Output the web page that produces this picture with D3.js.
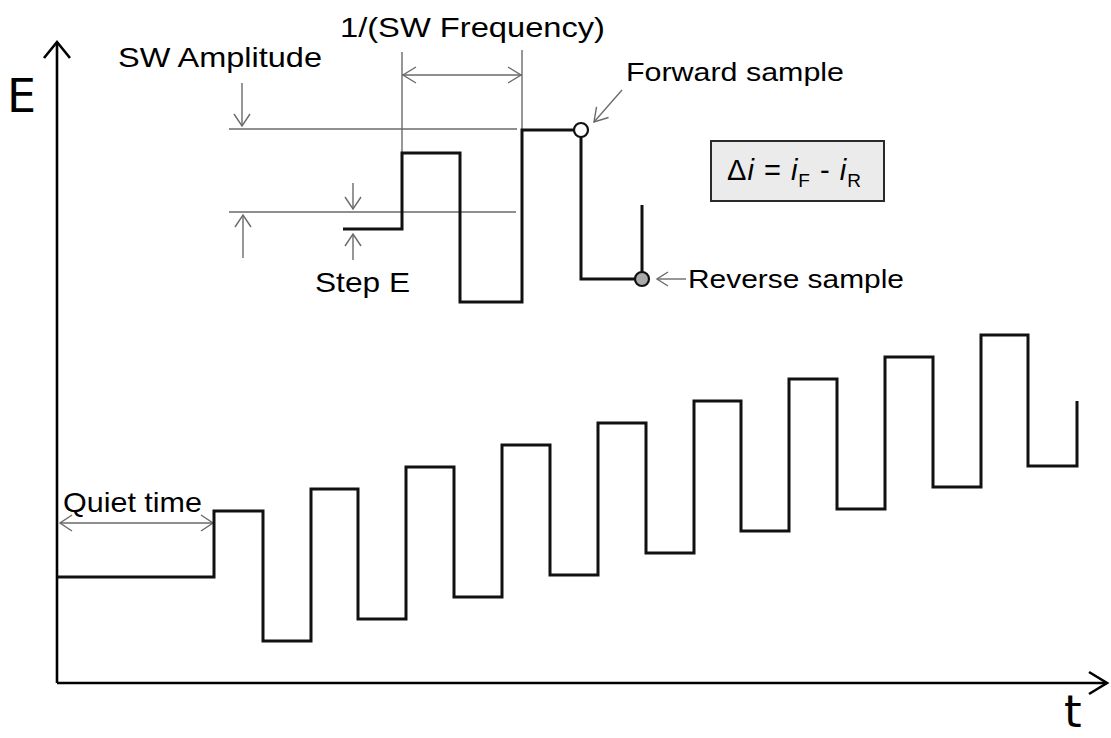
<!DOCTYPE html>
<html>
<head>
<meta charset="utf-8">
<script src="https://cdn.jsdelivr.net/npm/d3@7"></script>
<style>
  html, body { margin: 0; padding: 0; background: #fff; }
  svg { display: block; }
</style>
</head>
<body>
<svg id="chart" width="1111" height="738"></svg>
<script>
// ---- Data (time t and potential E in drawing units) ----
// Main square-wave staircase: [t, E] corner points (step-after)
const mainTimes  = [0, 157, 206, 254, 301, 349, 397, 445, 493, 541, 589, 637, 684, 732, 780, 828, 876, 924, 971, 1020];
const mainLevels = [106, 172, 42, 194, 64, 216, 86, 238, 108, 260, 130, 282, 152, 304, 174, 326, 196, 348, 217, 282];
// Inset (zoomed) waveform
const insetTimes  = [286, 345, 403, 465, 524, 585];
const insetLevels = [454, 530, 381, 553, 404, 478];
// Sample points
const forwardSample = [524, 553];
const reverseSample = [585, 404];
const quietTimeEnd = 157;
// Guide levels in inset
const ampTopLevel = 554;
const stepMidLevel = 471;
const axisLabels = ["E", "t"];
const labels = ["SW Amplitude", "1/(SW Frequency)", "Forward sample", "Step E", "Reverse sample", "Quiet time"];

// ---- Scales ----
const x = d3.scaleLinear().domain([0, 1050]).range([57, 1107]);
const y = d3.scaleLinear().domain([0, 641]).range([683, 42]);

const svg = d3.select("#chart");
const grey = "#6a6a6a";

function chevron(g, tx, ty, dirx, diry, len, half, color, sw) {
  const px = -diry, py = dirx;
  const bx = tx - dirx * len, by = ty - diry * len;
  g.append("path")
    .attr("d", `M${bx + px * half},${by + py * half}L${tx},${ty}L${bx - px * half},${by - py * half}`)
    .attr("fill", "none").attr("stroke", color).attr("stroke-width", sw)
    .attr("stroke-linejoin", "miter");
}
function line(g, x1, y1, x2, y2, color, sw) {
  g.append("line").attr("x1", x1).attr("y1", y1).attr("x2", x2).attr("y2", y2)
    .attr("stroke", color).attr("stroke-width", sw);
}

// ---- Axes ----
const ax = svg.append("g");
line(ax, x(0), y(0), x(0), y(641), "#000", 2.6);
line(ax, x(0), y(0), x(1050), y(0), "#000", 2.6);
chevron(ax, x(0), y(641), 0, -1, 16, 13, "#000", 2.6);
chevron(ax, x(1050), y(0), 1, 0, 18, 11, "#000", 2.6);
ax.append("text").attr("x", 7).attr("y", 112).text(axisLabels[0])
  .attr("font-family", "DejaVu Sans").attr("font-size", 46).attr("fill", "#000");
ax.append("text").attr("x", 1064).attr("y", 727).text(axisLabels[1])
  .attr("font-family", "DejaVu Sans").attr("font-size", 45).attr("fill", "#000");

// ---- Guides (grey) ----
const gd = svg.append("g");
line(gd, 229, y(ampTopLevel), 517, y(ampTopLevel), grey, 1.4);
line(gd, 229, y(stepMidLevel), 516, y(stepMidLevel), grey, 1.4);
line(gd, x(insetTimes[1]), 52, x(insetTimes[1]), y(insetLevels[1]), grey, 1.4);
line(gd, x(insetTimes[3]), 50, x(insetTimes[3]), y(insetLevels[3]), grey, 1.4);
line(gd, x(insetTimes[1]), 75, x(insetTimes[3]), 75, grey, 1.4);
chevron(gd, x(insetTimes[1]) + 1, 75, -1, 0, 13, 8, grey, 1.4);
chevron(gd, x(insetTimes[3]) - 1, 75, 1, 0, 13, 8, grey, 1.4);
line(gd, 242, 83, 242, y(ampTopLevel) - 3, grey, 1.4);
chevron(gd, 242, y(ampTopLevel) - 3, 0, 1, 12, 8, grey, 1.4);
line(gd, 243, 258, 243, y(stepMidLevel) + 3, grey, 1.4);
chevron(gd, 243, y(stepMidLevel) + 3, 0, -1, 12, 8, grey, 1.4);
line(gd, 353, 183, 353, y(stepMidLevel) - 3, grey, 1.4);
chevron(gd, 353, y(stepMidLevel) - 3, 0, 1, 12, 8, grey, 1.4);
line(gd, 353, 260, 353, y(insetLevels[0]) + 5, grey, 1.4);
chevron(gd, 353, y(insetLevels[0]) + 5, 0, -1, 12, 8, grey, 1.4);
line(gd, x(0) + 3, 523, x(quietTimeEnd) - 1, 523, grey, 1.4);
chevron(gd, x(0) + 3, 523, -1, 0, 12, 8, grey, 1.4);
chevron(gd, x(quietTimeEnd) - 1, 523, 1, 0, 12, 8, grey, 1.4);
{
  const tx = x(forwardSample[0]) + 13, ty = y(forwardSample[1]) - 8;
  const sx = 622, sy = 90;
  const L = Math.hypot(tx - sx, ty - sy);
  line(gd, sx, sy, tx, ty, grey, 1.4);
  chevron(gd, tx, ty, (tx - sx) / L, (ty - sy) / L, 13, 8, grey, 1.4);
}
line(gd, 686, y(reverseSample[1]), x(reverseSample[0]) + 15, y(reverseSample[1]), grey, 1.4);
chevron(gd, x(reverseSample[0]) + 15, y(reverseSample[1]), -1, 0, 11, 7, grey, 1.4);

// ---- Waveforms ----
const stepLine = d3.line().x(d => x(d[0])).y(d => y(d[1])).curve(d3.curveStepAfter);
const mainData = mainTimes.map((t, i) => [t, mainLevels[i]]);
const insetData = insetTimes.map((t, i) => [t, insetLevels[i]]);
svg.append("path").attr("d", stepLine(mainData))
  .attr("fill", "none").attr("stroke", "#111").attr("stroke-width", 3).attr("stroke-linejoin", "miter");
svg.append("path").attr("d", stepLine(insetData))
  .attr("fill", "none").attr("stroke", "#111").attr("stroke-width", 3).attr("stroke-linejoin", "miter");

// ---- Sample markers ----
svg.append("circle").attr("cx", x(forwardSample[0])).attr("cy", y(forwardSample[1])).attr("r", 7)
  .attr("fill", "#fff").attr("stroke", "#111").attr("stroke-width", 2.2);
svg.append("circle").attr("cx", x(reverseSample[0])).attr("cy", y(reverseSample[1])).attr("r", 7)
  .attr("fill", "#aaaaaa").attr("stroke", "#111").attr("stroke-width", 2.2);

// ---- Text labels (glyphs stretched horizontally like the reference) ----
const tl = svg.append("g").attr("font-family", "'Liberation Sans', Arial, sans-serif").attr("fill", "#000");
const labelPos = [
  {x: 118, y: 67, fs: 28, w: 204},
  {x: 340, y: 37, fs: 28, w: 265},
  {x: 626, y: 81, fs: 26, w: 218},
  {x: 315, y: 292, fs: 28, w: 95},
  {x: 688, y: 288, fs: 26, w: 216},
  {x: 63, y: 512, fs: 28, w: 139}
];
labels.forEach((s, i) => {
  tl.append("text").attr("x", labelPos[i].x).attr("y", labelPos[i].y)
    .attr("font-size", labelPos[i].fs)
    .attr("textLength", labelPos[i].w).attr("lengthAdjust", "spacingAndGlyphs")
    .text(s);
});

// ---- Formula box ----
svg.append("rect").attr("x", 711).attr("y", 141).attr("width", 173).attr("height", 60)
  .attr("fill", "#ebebeb").attr("stroke", "#2a2a2a").attr("stroke-width", 2);
const ft = svg.append("text").attr("x", 727).attr("y", 180)
  .attr("font-family", "'Liberation Sans', Arial, sans-serif").attr("font-size", 29).attr("fill", "#000")
  .attr("letter-spacing", 1);
ft.append("tspan").text("\u0394");
ft.append("tspan").attr("font-style", "italic").text("i");
ft.append("tspan").text(" = ");
ft.append("tspan").attr("font-style", "italic").text("i");
ft.append("tspan").attr("font-size", 19).attr("dy", 7).text("F");
ft.append("tspan").attr("dy", -7).text(" - ");
ft.append("tspan").attr("font-style", "italic").text("i");
ft.append("tspan").attr("font-size", 19).attr("dy", 7).text("R");
</script>
</body>
</html>
